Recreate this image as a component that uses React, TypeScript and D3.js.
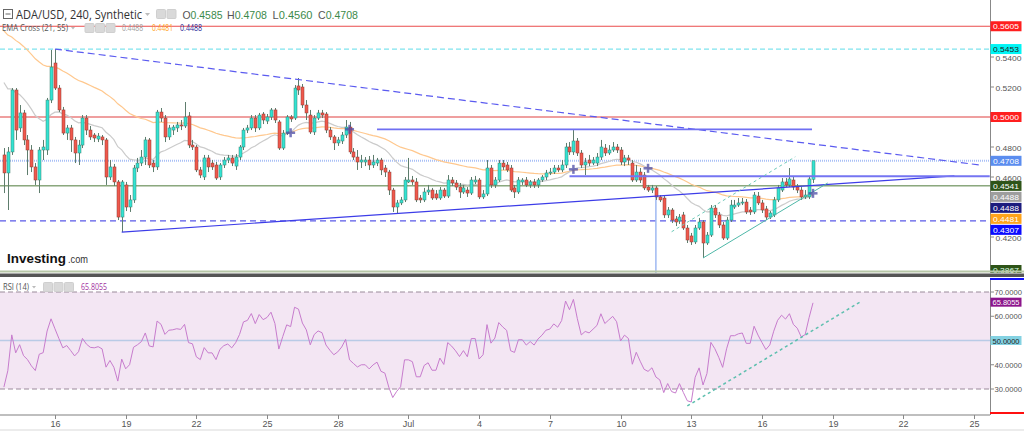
import React from "react";
import * as d3 from "d3";

// ---------- DATA ----------
const firstCandle = "2022-06-13T20:00:00Z";
const candleHours = 4;

const opens = [
  0.4747, 0.4627, 0.4767, 0.5180, 0.4927, 0.5027, 0.4847, 0.4780, 0.4667, 0.4580,
  0.4780, 0.4780, 0.5113, 0.5360, 0.5193, 0.5047, 0.4893, 0.4927, 0.4847, 0.4760,
  0.4813, 0.4993, 0.4913, 0.4880, 0.4853, 0.4867, 0.4847, 0.4600, 0.4667, 0.4567,
  0.4333, 0.4547, 0.4400, 0.4447, 0.4660, 0.4693, 0.4733, 0.4847, 0.4693, 0.4667,
  0.5033, 0.4993, 0.4867, 0.4913, 0.4927, 0.4947, 0.4940, 0.5007, 0.4813, 0.4800,
  0.4647, 0.4600, 0.4727, 0.4693, 0.4680, 0.4600, 0.4680, 0.4713, 0.4727, 0.4673,
  0.4733, 0.4800, 0.4913, 0.4927, 0.4993, 0.4927, 0.5020, 0.4973, 0.5000, 0.5047,
  0.4967, 0.4793, 0.4893, 0.5000, 0.4993, 0.5207, 0.5200, 0.5080, 0.5013, 0.4900,
  0.4993, 0.5027, 0.5020, 0.4913, 0.4867, 0.4827, 0.4840, 0.4880, 0.4933, 0.4767,
  0.4733, 0.4700, 0.4700, 0.4713, 0.4680, 0.4693, 0.4713, 0.4660, 0.4633, 0.4513,
  0.4400, 0.4427, 0.4447, 0.4567, 0.4580, 0.4567, 0.4460, 0.4447, 0.4500, 0.4513,
  0.4487, 0.4460, 0.4513, 0.4473, 0.4580, 0.4560, 0.4533, 0.4500, 0.4513, 0.4493,
  0.4567, 0.4580, 0.4467, 0.4487, 0.4660, 0.4547, 0.4580, 0.4693, 0.4680, 0.4660,
  0.4527, 0.4500, 0.4567, 0.4580, 0.4547, 0.4567, 0.4547, 0.4580, 0.4600, 0.4627,
  0.4633, 0.4660, 0.4647, 0.4680, 0.4800, 0.4767, 0.4840, 0.4760, 0.4680, 0.4713,
  0.4693, 0.4693, 0.4733, 0.4793, 0.4760, 0.4780, 0.4800, 0.4780, 0.4700, 0.4727,
  0.4693, 0.4580, 0.4633, 0.4613, 0.4533, 0.4513, 0.4527, 0.4467, 0.4460, 0.4347,
  0.4380, 0.4320, 0.4307, 0.4347, 0.4260, 0.4207, 0.4167, 0.4260, 0.4300, 0.4160,
  0.4213, 0.4393, 0.4347, 0.4280, 0.4193, 0.4313, 0.4400, 0.4413, 0.4427, 0.4433,
  0.4380, 0.4367, 0.4473, 0.4427, 0.4387, 0.4333, 0.4347, 0.4447, 0.4513, 0.4567,
  0.4547, 0.4580, 0.4533, 0.4513, 0.4467, 0.4467, 0.4585,
];
const highs = [
  0.4793, 0.4800, 0.5193, 0.5193, 0.5080, 0.5047, 0.4880, 0.4813, 0.4693, 0.4800,
  0.4847, 0.5127, 0.5447, 0.5453, 0.5213, 0.5067, 0.4947, 0.4947, 0.4867, 0.4847,
  0.5013, 0.5013, 0.4940, 0.4893, 0.4893, 0.4880, 0.4860, 0.4713, 0.4687, 0.4580,
  0.4580, 0.4567, 0.4480, 0.4680, 0.4727, 0.4780, 0.4867, 0.4860, 0.4713, 0.5047,
  0.5060, 0.5013, 0.4947, 0.4947, 0.4967, 0.4980, 0.5100, 0.5033, 0.4847, 0.4813,
  0.4667, 0.4747, 0.4747, 0.4713, 0.4700, 0.4693, 0.4733, 0.4747, 0.4747, 0.4753,
  0.4813, 0.4927, 0.4947, 0.5013, 0.5013, 0.5027, 0.5033, 0.5020, 0.5060, 0.5060,
  0.4980, 0.4913, 0.5013, 0.5013, 0.5213, 0.5260, 0.5220, 0.5113, 0.5047, 0.5013,
  0.5047, 0.5047, 0.5033, 0.4933, 0.4880, 0.4867, 0.4900, 0.4980, 0.4967, 0.4793,
  0.4780, 0.4747, 0.4733, 0.4740, 0.4747, 0.4727, 0.4727, 0.4680, 0.4647, 0.4527,
  0.4447, 0.4467, 0.4600, 0.4727, 0.4607, 0.4593, 0.4480, 0.4527, 0.4547, 0.4527,
  0.4513, 0.4533, 0.4527, 0.4613, 0.4600, 0.4580, 0.4560, 0.4547, 0.4533, 0.4600,
  0.4607, 0.4593, 0.4513, 0.4713, 0.4680, 0.4600, 0.4713, 0.4713, 0.4700, 0.4680,
  0.4547, 0.4600, 0.4593, 0.4600, 0.4580, 0.4587, 0.4593, 0.4613, 0.4647, 0.4660,
  0.4680, 0.4680, 0.4713, 0.4827, 0.4833, 0.4913, 0.4860, 0.4780, 0.4727, 0.4747,
  0.4733, 0.4760, 0.4847, 0.4820, 0.4813, 0.4833, 0.4820, 0.4800, 0.4747, 0.4747,
  0.4713, 0.4680, 0.4660, 0.4633, 0.4547, 0.4547, 0.4540, 0.4480, 0.4473, 0.4400,
  0.4393, 0.4340, 0.4353, 0.4367, 0.4280, 0.4227, 0.4280, 0.4327, 0.4313, 0.4233,
  0.4413, 0.4413, 0.4367, 0.4300, 0.4333, 0.4447, 0.4447, 0.4460, 0.4460, 0.4453,
  0.4400, 0.4500, 0.4500, 0.4447, 0.4407, 0.4373, 0.4467, 0.4547, 0.4593, 0.4593,
  0.4660, 0.4600, 0.4553, 0.4533, 0.4513, 0.4607, 0.4708,
];
const lows = [
  0.4493, 0.4380, 0.4747, 0.4847, 0.4900, 0.4813, 0.4613, 0.4633, 0.4547, 0.4493,
  0.4713, 0.4747, 0.5093, 0.5180, 0.5033, 0.4880, 0.4847, 0.4767, 0.4693, 0.4680,
  0.4793, 0.4880, 0.4847, 0.4833, 0.4833, 0.4813, 0.4547, 0.4580, 0.4540, 0.4313,
  0.4233, 0.4373, 0.4367, 0.4427, 0.4633, 0.4673, 0.4680, 0.4660, 0.4633, 0.4647,
  0.4967, 0.4833, 0.4847, 0.4880, 0.4900, 0.4913, 0.4927, 0.4793, 0.4780, 0.4633,
  0.4593, 0.4580, 0.4633, 0.4647, 0.4580, 0.4580, 0.4660, 0.4693, 0.4673, 0.4647,
  0.4713, 0.4780, 0.4893, 0.4913, 0.4900, 0.4913, 0.4953, 0.4953, 0.4980, 0.4960,
  0.4780, 0.4780, 0.4880, 0.4967, 0.4980, 0.5147, 0.5060, 0.4980, 0.4887, 0.4880,
  0.4980, 0.4993, 0.4893, 0.4847, 0.4780, 0.4807, 0.4820, 0.4860, 0.4753, 0.4713,
  0.4647, 0.4660, 0.4673, 0.4647, 0.4660, 0.4673, 0.4613, 0.4600, 0.4480, 0.4367,
  0.4360, 0.4413, 0.4433, 0.4560, 0.4547, 0.4433, 0.4427, 0.4433, 0.4480, 0.4447,
  0.4447, 0.4447, 0.4460, 0.4460, 0.4540, 0.4513, 0.4460, 0.4487, 0.4467, 0.4480,
  0.4553, 0.4453, 0.4453, 0.4473, 0.4527, 0.4527, 0.4567, 0.4647, 0.4633, 0.4500,
  0.4460, 0.4487, 0.4547, 0.4533, 0.4527, 0.4527, 0.4527, 0.4567, 0.4580, 0.4613,
  0.4620, 0.4633, 0.4633, 0.4660, 0.4747, 0.4747, 0.4740, 0.4660, 0.4613, 0.4673,
  0.4680, 0.4673, 0.4713, 0.4740, 0.4747, 0.4767, 0.4760, 0.4680, 0.4673, 0.4680,
  0.4567, 0.4567, 0.4560, 0.4513, 0.4500, 0.4493, 0.4447, 0.4433, 0.4327, 0.4327,
  0.4293, 0.4273, 0.4287, 0.4247, 0.4160, 0.4147, 0.4153, 0.4247, 0.4060, 0.4147,
  0.4200, 0.4327, 0.4260, 0.4180, 0.4180, 0.4300, 0.4387, 0.4400, 0.4413, 0.4353,
  0.4347, 0.4353, 0.4413, 0.4360, 0.4313, 0.4320, 0.4333, 0.4433, 0.4500, 0.4533,
  0.4533, 0.4513, 0.4493, 0.4447, 0.4453, 0.4453, 0.4560,
];
const closes = [
  0.4627, 0.4767, 0.5180, 0.4913, 0.5027, 0.4847, 0.4780, 0.4667, 0.4580, 0.4780,
  0.4800, 0.5113, 0.5333, 0.5193, 0.5047, 0.4893, 0.4927, 0.4847, 0.4760, 0.4813,
  0.4993, 0.4913, 0.4867, 0.4860, 0.4873, 0.4847, 0.4600, 0.4667, 0.4567, 0.4333,
  0.4567, 0.4400, 0.4447, 0.4660, 0.4693, 0.4733, 0.4847, 0.4680, 0.4667, 0.5033,
  0.4993, 0.4867, 0.4927, 0.4933, 0.4947, 0.4940, 0.5000, 0.4813, 0.4800, 0.4647,
  0.4613, 0.4727, 0.4667, 0.4667, 0.4593, 0.4680, 0.4713, 0.4727, 0.4693, 0.4733,
  0.4800, 0.4913, 0.4927, 0.4993, 0.4927, 0.5013, 0.4980, 0.5000, 0.5047, 0.4980,
  0.4793, 0.4893, 0.5000, 0.4987, 0.5193, 0.5180, 0.5080, 0.5027, 0.4900, 0.4993,
  0.5027, 0.5013, 0.4913, 0.4867, 0.4827, 0.4847, 0.4880, 0.4933, 0.4767, 0.4733,
  0.4700, 0.4713, 0.4713, 0.4680, 0.4700, 0.4713, 0.4647, 0.4633, 0.4513, 0.4400,
  0.4427, 0.4447, 0.4580, 0.4580, 0.4567, 0.4447, 0.4447, 0.4500, 0.4513, 0.4460,
  0.4460, 0.4513, 0.4473, 0.4580, 0.4560, 0.4533, 0.4500, 0.4527, 0.4493, 0.4580,
  0.4580, 0.4467, 0.4487, 0.4660, 0.4547, 0.4580, 0.4693, 0.4667, 0.4647, 0.4513,
  0.4500, 0.4580, 0.4580, 0.4547, 0.4567, 0.4547, 0.4580, 0.4600, 0.4627, 0.4633,
  0.4660, 0.4647, 0.4680, 0.4800, 0.4767, 0.4840, 0.4760, 0.4680, 0.4700, 0.4693,
  0.4713, 0.4733, 0.4800, 0.4760, 0.4780, 0.4800, 0.4780, 0.4700, 0.4727, 0.4713,
  0.4580, 0.4633, 0.4580, 0.4527, 0.4513, 0.4527, 0.4467, 0.4447, 0.4347, 0.4380,
  0.4313, 0.4300, 0.4333, 0.4260, 0.4180, 0.4167, 0.4260, 0.4300, 0.4160, 0.4213,
  0.4393, 0.4347, 0.4280, 0.4193, 0.4313, 0.4413, 0.4413, 0.4427, 0.4433, 0.4367,
  0.4367, 0.4480, 0.4427, 0.4380, 0.4333, 0.4360, 0.4447, 0.4527, 0.4567, 0.4547,
  0.4587, 0.4533, 0.4513, 0.4467, 0.4480, 0.4587, 0.4708,
];

// indicator seeds (state before the first visible candle)
const ema21Seed = 0.529;
const ema55Seed = 0.561;
const rsiSeedGain = 0.0033;
const rsiSeedLoss = 0.0065;

const xTickDates = [
  "2022-06-16", "2022-06-19", "2022-06-22", "2022-06-25", "2022-06-28", "2022-07-01", "2022-07-04",
  "2022-07-07", "2022-07-10", "2022-07-13", "2022-07-16", "2022-07-19", "2022-07-22", "2022-07-25",
];
const xTickLabels = ["16", "19", "22", "25", "28", "Jul", "4", "7", "10", "13", "16", "19", "22", "25"];
const priceTicks = [0.56, 0.54, 0.52, 0.5, 0.48, 0.46, 0.44, 0.42, 0.4];
const rsiTicks = [70, 60, 40, 30];

// horizontal levels on price pane
const levelValues = [0.5605, 0.5453, 0.5, 0.4708, 0.4541, 0.4307];
// price scale markers
const markerValues = [0.5605, 0.5453, 0.5, 0.4708, 0.4541, 0.4488, 0.4488, 0.4481, 0.4307, 0.3867];
const markerTexts = ["0.5605", "0.5453", "0.5000", "0.4708", "0.4541", "0.4488", "0.4488", "0.4481", "0.4307", "0.3867"];

// drawn trend lines: [date, price] pairs
const trendFrom: [string, number][] = [
  ["2022-06-16T00:00Z", 0.5453],
  ["2022-06-18T20:00Z", 0.4233],
  ["2022-06-29T16:00Z", 0.4918],
  ["2022-07-07T20:00Z", 0.4605],
  ["2022-07-13T12:00Z", 0.406],
  ["2022-07-12T04:00Z", 0.4235],
];
const trendTo: [string, number][] = [
  ["2022-07-25T06:00Z", 0.468],
  ["2022-07-24T04:00Z", 0.4607],
  ["2022-07-18T03:00Z", 0.4918],
  ["2022-07-25T16:00Z", 0.4605],
  ["2022-07-18T19:00Z", 0.456],
  ["2022-07-17T10:00Z", 0.4735],
];
const verticalLineDate = "2022-07-11T12:00Z";
const verticalLineTop = 0.4467;

const crossDates = ["2022-06-26T00:00Z", "2022-06-28T12:00Z", "2022-07-08T00:00Z", "2022-07-11T04:00Z", "2022-07-18T04:00Z"];
const crossPrices = [0.4895, 0.4918, 0.4651, 0.4658, 0.4491];

const rsiTrendFrom: [string, number] = ["2022-07-12T20:00Z", 23.0];
const rsiTrendTo: [string, number] = ["2022-07-20T04:00Z", 65.9];

// ---------- HELPERS ----------
function ema(vals: number[], period: number, seed: number) {
  const a = 2 / (period + 1);
  let e = seed;
  return vals.map((v) => (e = e + a * (v - e)));
}
function rsi(vals: number[], period: number, g0: number, l0: number, prev0: number) {
  let g = g0, l = l0, prev = prev0;
  return vals.map((v) => {
    const ch = v - prev;
    prev = v;
    g = (g * (period - 1) + Math.max(ch, 0)) / period;
    l = (l * (period - 1) + Math.max(-ch, 0)) / period;
    return 100 - 100 / (1 + g / l);
  });
}

const FONT = "'Liberation Sans', Arial, sans-serif";
const HFONT = "'Open Sans', 'Liberation Sans', sans-serif";

export default function App() {
  const t0 = new Date(firstCandle).getTime();
  const times = closes.map((_, i) => new Date(t0 + i * candleHours * 3600e3));
  const n = closes.length;

  const x = d3.scaleUtc().domain([times[0], times[n - 1]]).range([3.9, 813]);
  const y = d3.scaleLinear().domain([0.54, 0.42]).range([57, 237]);
  const yr = d3.scaleLinear().domain([70, 30]).range([292, 389]);

  const e21 = ema(closes, 21, ema21Seed);
  const e55 = ema(closes, 55, ema55Seed);
  const r = rsi(closes, 14, rsiSeedGain, rsiSeedLoss, opens[0]);

  const lineP = (arr: number[]) =>
    d3.line<number>().x((_, i) => x(times[i])).y((d) => y(d))(arr) || "";
  const rsiPath = d3.line<number>().x((_, i) => x(times[i])).y((d) => yr(d))(r) || "";

  const axisX = 990.5;
  const levelStyles = [
    { stroke: "#ea4b4b", w: 1.2, dash: "" },
    { stroke: "#7fe4ee", w: 1.2, dash: "5 3" },
    { stroke: "#e04040", w: 1.2, dash: "" },
    { stroke: "#a9c0f6", w: 2, dash: "1 1" },
    { stroke: "#4f7a3a", w: 1, dash: "" },
    { stroke: "#5a5ae8", w: 1.2, dash: "6 4" },
  ];
  const markerFill = ["#ff1f1f", "#00f5f5", "#ff1f1f", "#5b8def", "#2e5418", "#9e9e9e", "#1c1c7e", "#ffa31a", "#0b0bff", "#2e5418"];
  const markerTextFill = ["#fff", "#222", "#fff", "#fff", "#fff", "#fff", "#fff", "#fff", "#fff", "#dfe"];

  // collision avoidance for markers
  const mY: number[] = [];
  const order = markerValues.map((v, i) => i).sort((a, b) => y(markerValues[a]) - y(markerValues[b]));
  let last = -1e9;
  order.forEach((i) => {
    let yy = Math.min(y(markerValues[i]), 270);
    if (yy < last + 11) yy = last + 11;
    if (i === markerValues.length - 1) yy = 270;
    mY[i] = yy;
    last = yy;
  });
  // tick labels hidden behind a marker box are not drawn
  const visiblePriceTicks = priceTicks.filter((v) => mY.every((m) => Math.abs(m - y(v)) >= 6));

  const trendStyles = [
    { stroke: "#5b5bf0", w: 1.2, dash: "7 4" },
    { stroke: "#3d3de8", w: 1.2, dash: "" },
    { stroke: "#6f6ff2", w: 1.8, dash: "" },
    { stroke: "#7575f2", w: 1.8, dash: "" },
    { stroke: "#4fb8a8", w: 1, dash: "" },
    { stroke: "#6cc9b8", w: 1, dash: "3 3" },
  ];

  const green = "#33e3d2";
  const red = "#f0584c";

  const icon = (xx: number, yy: number, k: string) => (
    <rect key={k} x={xx} y={yy} width={9} height={9} rx={1} fill="#d9d9d9" stroke="#cfcfcf" />
  );

  const ohlc: [string, string, number][] = [
    ["O", "0.4585", 182.5],
    ["H", "0.4708", 227],
    ["L", "0.4560", 272.5],
    ["C", "0.4708", 318],
  ];

  return (
    <svg width={1024} height={431} style={{ position: "absolute", left: 0, top: 0, background: "#fff" }}>
      <defs>
        <clipPath id="pclip"><rect x={0} y={0} width={990} height={273} /></clipPath>
        <clipPath id="rclip"><rect x={0} y={278} width={990} height={136} /></clipPath>
        <clipPath id="aclip"><rect x={990} y={0} width={34} height={273} /></clipPath>
      </defs>
      <rect x={0} y={0} width={1024} height={431} fill="#fff" />

      {/* ---------- PRICE PANE ---------- */}
      <g clipPath="url(#pclip)">
        {levelValues.map((v, i) => (
          <line key={"lv" + i} x1={0} x2={990} y1={y(v)} y2={y(v)} stroke={levelStyles[i].stroke}
            strokeWidth={levelStyles[i].w} strokeDasharray={levelStyles[i].dash || undefined} />
        ))}
        {/* EMAs */}
        <path d={lineP(e55)} fill="none" stroke="#ffc88e" strokeWidth={1.2} />
        <path d={lineP(e21)} fill="none" stroke="#cbcbcb" strokeWidth={1.2} />
        {/* vertical line */}
        <line x1={x(new Date(verticalLineDate))} x2={x(new Date(verticalLineDate))} y1={y(verticalLineTop)} y2={273}
          stroke="#9fb9f2" strokeWidth={1.5} />
        {/* candles */}
        {closes.map((c, i) => {
          const o = opens[i];
          const up = c >= o;
          const cx = Math.round(x(times[i]));
          const top = y(Math.max(o, c));
          const bot = y(Math.min(o, c));
          return (
            <g key={"c" + i}>
              <line x1={cx + 0.5} x2={cx + 0.5} y1={y(highs[i])} y2={y(lows[i])} stroke="#5e7d6d" strokeWidth={1} />
              <rect x={cx - 1} y={top} width={3} height={Math.max(1, bot - top)}
                fill={up ? green : red} stroke={up ? "#3f7f70" : "#8d3c34"} strokeWidth={0.5} />
            </g>
          );
        })}
        {/* trend lines */}
        {trendFrom.map((f, i) => (
          <line key={"tl" + i} x1={x(new Date(f[0]))} y1={y(f[1])} x2={x(new Date(trendTo[i][0]))} y2={y(trendTo[i][1])}
            stroke={trendStyles[i].stroke} strokeWidth={trendStyles[i].w} strokeDasharray={trendStyles[i].dash || undefined} />
        ))}
        {/* cross markers */}
        {crossDates.map((d, i) => {
          const cx = x(new Date(d));
          const cy = y(crossPrices[i]);
          return (
            <g key={"cr" + i} fill="#4b4ba6" opacity={0.75}>
              <rect x={cx - 4.5} y={cy - 1.25} width={9} height={2.5} />
              <rect x={cx - 1.25} y={cy - 4.5} width={2.5} height={9} />
            </g>
          );
        })}
      </g>

      {/* Header */}
      <rect x={3.5} y={9.5} width={9} height={9} fill="none" stroke="#666" />
      <line x1={5.5} x2={10.5} y1={14} y2={14} stroke="#666" />
      <text x={16} y={18.5} fontFamily={HFONT} fontSize={12.5} fill="#333" textLength={126} lengthAdjust="spacingAndGlyphs">
        ADA/USD, 240, Synthetic
      </text>
      <path d="M145,13 L150,13 L147.5,16 Z" fill="#bbb" />
      {icon(156.5, 9.5, "h1")}
      {icon(167, 9.5, "h2")}
      {ohlc.map((d) => (
        <text key={d[0]} x={d[2]} y={18.5} fontFamily={FONT} fontSize={11} textLength={40} lengthAdjust="spacingAndGlyphs">
          <tspan fill="#555">{d[0]}</tspan>
          <tspan fill="#3c8a4a">{d[1]}</tspan>
        </text>
      ))}
      <text x={2} y={31} fontFamily={HFONT} fontSize={9.5} fill="#555" textLength={66} lengthAdjust="spacingAndGlyphs">
        EMA Cross (21, 55)
      </text>
      <path d="M71,27 L75,27 L73,29.5 Z" fill="#bbb" />
      {icon(85, 23.5, "e1")}
      {icon(95.5, 23.5, "e2")}
      {icon(106, 23.5, "e3")}
      <text x={122} y={31} fontFamily={HFONT} fontSize={9.5} fill="#a0a0a0" textLength={21} lengthAdjust="spacingAndGlyphs">0.4488</text>
      <text x={152} y={31} fontFamily={HFONT} fontSize={9.5} fill="#ffa31a" textLength={21} lengthAdjust="spacingAndGlyphs">0.4481</text>
      <text x={180} y={31} fontFamily={HFONT} fontSize={9.5} fill="#2a2a9a" textLength={22} lengthAdjust="spacingAndGlyphs">0.4488</text>

      {/* Investing logo */}
      <text x={7} y={263} fontFamily={FONT} fontWeight="bold" fontSize={13.5} fill="#111" textLength={59} lengthAdjust="spacingAndGlyphs">Investing</text>
      <text x={68} y={263} fontFamily={FONT} fontSize={10.5} fill="#333" textLength={20} lengthAdjust="spacingAndGlyphs">.com</text>

      {/* Price axis */}
      <line x1={axisX} x2={axisX} y1={0} y2={273} stroke="#888" />
      <g clipPath="url(#aclip)">
        {priceTicks.map((v) => (
          <line key={"ptl" + v} x1={991} x2={994} y1={y(v)} y2={y(v)} stroke="#888" />
        ))}
        {visiblePriceTicks.map((v) => (
          <text key={"pt" + v} x={995.5} y={y(v) + 3.5} fontFamily={FONT} fontSize={8} fill="#555"
            textLength={26} lengthAdjust="spacingAndGlyphs">{v.toFixed(4)}</text>
        ))}
        {markerValues.map((v, i) => (
          <g key={"mk" + i}>
            <rect x={990.5} y={mY[i] - 5} width={31} height={10} fill={markerFill[i]} />
            <text x={1006} y={mY[i] + 2.8} textAnchor="middle" fontFamily={FONT} fontSize={8} fill={markerTextFill[i]}
              textLength={26} lengthAdjust="spacingAndGlyphs">
              {markerTexts[i]}
            </text>
          </g>
        ))}
      </g>

      {/* separator */}
      <line x1={0} x2={1024} y1={271.5} y2={271.5} stroke="#b7c7a8" strokeWidth={2} />
      <rect x={0} y={273.5} width={1024} height={3.5} fill="#555" />

      {/* ---------- RSI PANE ---------- */}
      <rect x={0} y={yr(70)} width={990} height={yr(30) - yr(70)} fill="#f3e6f3" />
      <line x1={0} x2={990} y1={yr(70)} y2={yr(70)} stroke="#9a8a9a" strokeDasharray="5 3" />
      <line x1={0} x2={990} y1={yr(30)} y2={yr(30)} stroke="#9a8a9a" strokeDasharray="5 3" />
      <line x1={0} x2={990} y1={yr(50)} y2={yr(50)} stroke="#b9cbe6" strokeWidth={1.5} />
      <g clipPath="url(#rclip)">
        <path d={rsiPath} fill="none" stroke="#c77ccd" strokeWidth={1} />
        <line x1={x(new Date(rsiTrendFrom[0]))} y1={yr(rsiTrendFrom[1])} x2={x(new Date(rsiTrendTo[0]))} y2={yr(rsiTrendTo[1])}
          stroke="#5dbfae" strokeWidth={1.5} strokeDasharray="3 3" />
      </g>
      <text x={3} y={290} fontFamily={HFONT} fontSize={9.5} fill="#555" textLength={26} lengthAdjust="spacingAndGlyphs">RSI (14)</text>
      <path d="M32,286 L36,286 L34,288.5 Z" fill="#bbb" />
      {icon(43.5, 282.5, "r1")}
      {icon(54, 282.5, "r2")}
      {icon(64.5, 282.5, "r3")}
      <text x={81} y={290} fontFamily={HFONT} fontSize={9.5} fill="#a3329f" textLength={26} lengthAdjust="spacingAndGlyphs">65.8055</text>

      {/* RSI axis */}
      <line x1={axisX} x2={axisX} y1={278} y2={415} stroke="#888" />
      <line x1={990} x2={1024} y1={279} y2={279} stroke="#1010ff" strokeWidth={2} />
      <line x1={990} x2={1024} y1={413} y2={413} stroke="#ff1010" strokeWidth={2} />
      {rsiTicks.map((v) => (
        <g key={"rt" + v}>
          <line x1={991} x2={994} y1={yr(v)} y2={yr(v)} stroke="#888" />
          <text x={994.5} y={yr(v) + 3} fontFamily={FONT} fontSize={7.8} fill="#555"
            textLength={27.5} lengthAdjust="spacingAndGlyphs">{v.toFixed(4)}</text>
        </g>
      ))}
      <rect x={990.5} y={yr(65.8055) - 4.5} width={31} height={9} fill="#8c168c" />
      <text x={1006} y={yr(65.8055) + 3} textAnchor="middle" fontFamily={FONT} fontSize={8} fill="#fff"
        textLength={27} lengthAdjust="spacingAndGlyphs">65.8055</text>
      <rect x={990.5} y={yr(50) - 4.5} width={31} height={9} fill="#84d2e2" />
      <text x={1006} y={yr(50) + 3} textAnchor="middle" fontFamily={FONT} fontSize={8} fill="#222"
        textLength={27} lengthAdjust="spacingAndGlyphs">50.0000</text>

      {/* X axis */}
      <line x1={0} x2={990} y1={415} y2={415} stroke="#aaa" strokeWidth={1.5} />
      {xTickDates.map((d, i) => {
        const xx = Math.round(x(new Date(d + "T00:00:00Z"))) + 0.5;
        return (
          <g key={"xt" + i}>
            <line x1={xx} x2={xx} y1={415} y2={419} stroke="#888" />
            <text x={xx} y={427} textAnchor="middle" fontFamily={FONT} fontSize={9} fill="#555">{xTickLabels[i]}</text>
          </g>
        );
      })}
      <rect x={0} y={429} width={1024} height={2} fill="#ececec" />
    </svg>
  );
}
